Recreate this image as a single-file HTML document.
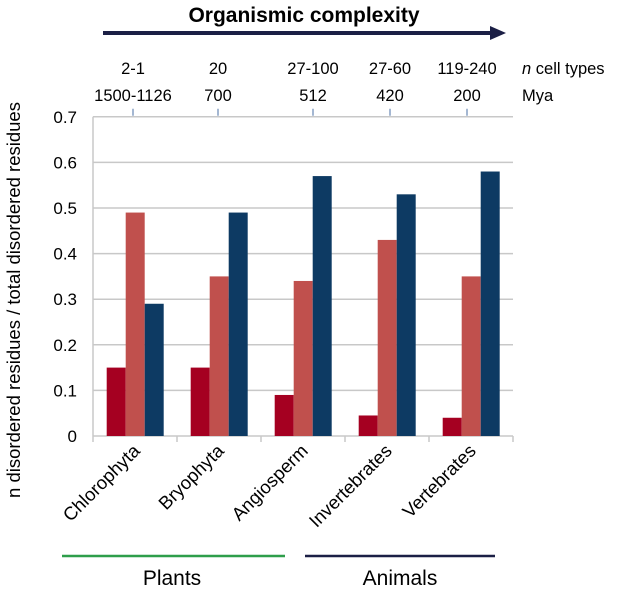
<!DOCTYPE html>
<html><head><meta charset="utf-8"><style>
body{margin:0;background:#fff;}
svg{display:block;font-family:"Liberation Sans",sans-serif;}
</style></head><body>
<svg id="chart" width="625" height="591" viewBox="0 0 625 591">
<text x="304" y="22" text-anchor="middle" font-size="21" font-weight="bold" fill="#000">Organismic complexity</text>
<g>
<line x1="103" y1="33" x2="492" y2="33" stroke="#1b1f45" stroke-width="4"/>
<polygon points="490,26 506,33 490,40" fill="#1b1f45"/>
</g>
<g id="toprows"></g>
<g id="grid"></g>
<g id="bars"></g>
<g id="labels"></g>
<text transform="translate(20,300) rotate(-90)" text-anchor="middle" font-size="18.5" fill="#000">n disordered  residues / total disordered  residues</text>
<line x1="62" y1="556" x2="285" y2="556" stroke="#2e9e4a" stroke-width="2.5"/>
<line x1="305" y1="556" x2="495" y2="556" stroke="#1b1f45" stroke-width="2.5"/>
<text x="172" y="585" text-anchor="middle" font-size="21" fill="#000">Plants</text>
<text x="400" y="585" text-anchor="middle" font-size="21" fill="#000">Animals</text>
</svg>
<script>
const categories=["Chlorophyta","Bryophyta","Angiosperm","Invertebrates","Vertebrates"];
const seriesRed=[0.15,0.15,0.09,0.045,0.04];
const seriesSalmon=[0.49,0.35,0.34,0.43,0.35];
const seriesBlue=[0.29,0.49,0.57,0.53,0.58];
const yTicks=[0,0.1,0.2,0.3,0.4,0.5,0.6,0.7];
const cellTypes=["2-1","20","27-100","27-60","119-240"];
const mya=["1500-1126","700","512","420","200"];
const topX=[133,218,313,390,467];
const NS="http://www.w3.org/2000/svg";
const x0=93,x1=513,y0=436,yTop=116.8,ymax=0.7;
const bw=(x1-x0)/categories.length;
function y(v){return y0-(v/ymax)*(y0-yTop);}
function mk(t,a,p){const e=document.createElementNS(NS,t);for(const k in a)e.setAttribute(k,a[k]);p.appendChild(e);return e;}
const grid=document.getElementById('grid'),bars=document.getElementById('bars'),labels=document.getElementById('labels'),topG=document.getElementById('toprows');
yTicks.forEach(v=>{
 const l=mk('line',{x1:x0,x2:x1,y1:y(v),y2:y(v),stroke:'#c8c8c8','stroke-width':1.5},grid);
 
 
 const t=mk('text',{x:77,y:y(v)+6,'text-anchor':'end','font-size':17,fill:'#000'},labels);
 t.textContent=String(v);
 
 
});
const ax=mk('line',{x1:x0,x2:x0,y1:yTop,y2:y0,stroke:'#c8c8c8','stroke-width':1.5},grid);


for(let i=0;i<=categories.length;i++){
 const tk=mk('line',{x1:x0+i*bw,x2:x0+i*bw,y1:y0,y2:y0+6,stroke:'#c8c8c8','stroke-width':1.5},grid);
 
 
}
const series=[[seriesRed,'#a50021'],[seriesSalmon,'#c0504d'],[seriesBlue,'#0d3a63']];
const barW=19,gStart=13.7;
categories.forEach((c,i)=>{
 series.forEach((s,j)=>{
  const v=s[0][i];
  const r=mk('rect',{x:x0+i*bw+gStart+j*barW,y:y(v),width:barW,height:y0-y(v),fill:s[1]},bars);
  
  
 });
 const cx=x0+i*bw+bw/2+6;
 const t=mk('text',{transform:`translate(${cx},${y0+16}) rotate(-45)`,'text-anchor':'end','font-size':18.5,fill:'#000'},labels);
 t.textContent=c;
 
 
 const a=mk('text',{x:topX[i],y:74,'text-anchor':'middle','font-size':16.5,fill:'#000'},topG);
 a.textContent=cellTypes[i];
 
 
 const b=mk('text',{x:topX[i],y:101,'text-anchor':'middle','font-size':16.5,fill:'#000'},topG);
 b.textContent=mya[i];
 
 
 const tk=mk('line',{x1:topX[i],x2:topX[i],y1:y(0.7)-8,y2:y(0.7)-1,stroke:'#4a6fa5','stroke-width':1},topG);
 
 
});
const n=mk('text',{x:522,y:74,'font-size':16.5,fill:'#000'},topG);
n.innerHTML='<tspan font-style="italic">n</tspan> cell types';


const m=mk('text',{x:522,y:101,'font-size':16.5,fill:'#000'},topG);
m.textContent='Mya';


</script>
</body></html>
